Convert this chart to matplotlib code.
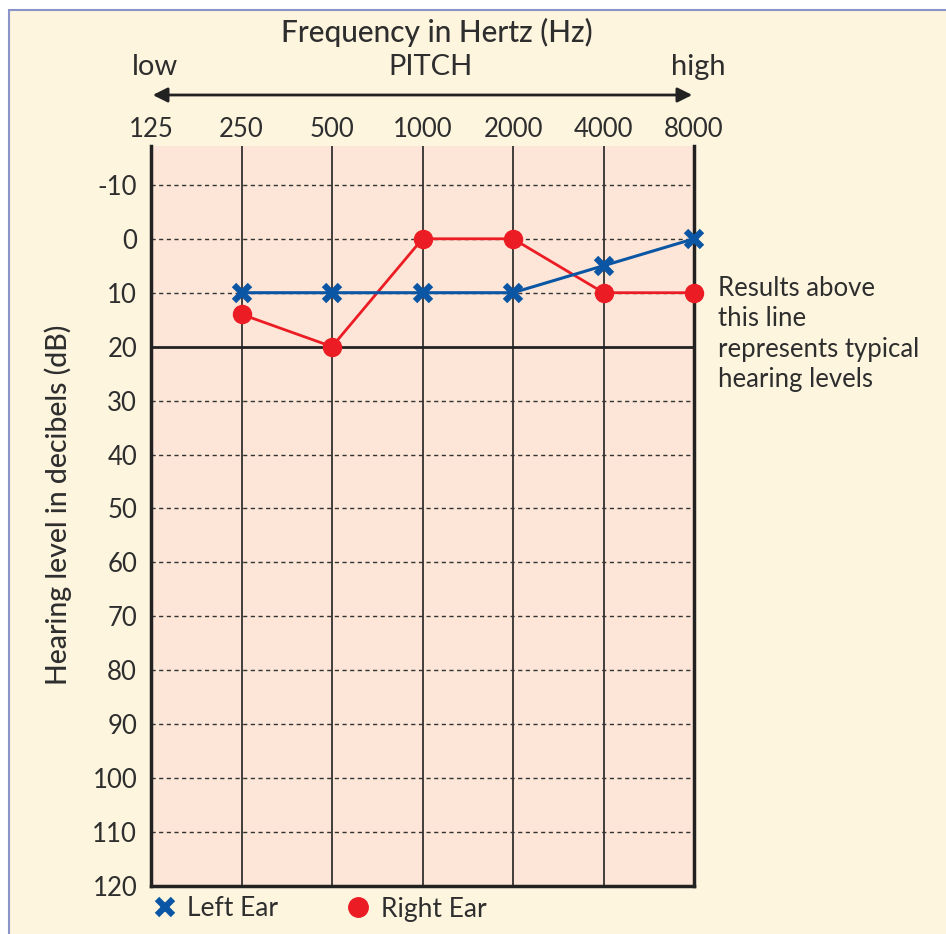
import numpy as np
import matplotlib.pyplot as plt
from matplotlib.lines import Line2D
from matplotlib.patches import Rectangle

plt.rcParams['font.family'] = ['Lato', 'DejaVu Sans']

# 周波数と聴力レベル
freqs = [125, 250, 500, 1000, 2000, 4000, 8000]
freq_labels = ['125', '250', '500', '1000', '2000', '4000', '8000']
left_freqs = [250, 500, 1000, 2000, 4000, 8000]
left_db = [10, 10, 10, 10, 5, 0]
right_freqs = [250, 500, 1000, 2000, 4000, 8000]
right_db = [14, 20, 0, 0, 10, 10]
db_ticks = [-10, 0, 10, 20, 30, 40, 50, 60, 70, 80, 90, 100, 110, 120]

txt = '#2e2e2e'
blue = '#0b56a4'
red = '#ec1c24'

fig = plt.figure(figsize=(9.46, 9.34), dpi=100)
fig.patch.set_facecolor('white')
# 背景の枠
fig.patches.append(Rectangle((9/946, -0.1), 1.1, 1 - 10/934 + 0.1, transform=fig.transFigure,
                             facecolor='#fdf5de', edgecolor='#8b94c9', linewidth=1.5, zorder=-10))

ax = fig.add_axes([151/946, 1 - 886/934, (694-151)/946, (886-146)/934])
ax.set_facecolor('#fde6d7')

xpos = lambda f: np.log2(np.array(f) / 125.0)

ax.set_xlim(0, 6)
ax.set_ylim(120, -17.2)

# グリッド
for f in freqs[1:-1]:
    ax.axvline(xpos(f), color='#222222', lw=1.2, zorder=1)
for d in db_ticks:
    if d == 20:
        ax.axhline(d, color='#222222', lw=2, zorder=1)
    elif d != 120:
        ax.axhline(d, color='#333333', lw=1, ls=(0, (3, 2.5)), zorder=1)

ax.plot(xpos(right_freqs), right_db, color=red, lw=2, marker='o', ms=13, zorder=3, clip_on=False)
ax.plot(xpos(left_freqs), left_db, color=blue, lw=2.2, marker='x', ms=12, mew=4.5, zorder=4, clip_on=False)

for s in ['left', 'right', 'bottom']:
    ax.spines[s].set_linewidth(2.5)
    ax.spines[s].set_color('#222222')
ax.spines['top'].set_visible(False)

ax.set_yticks(db_ticks)
ax.set_yticklabels([str(d) for d in db_ticks], fontsize=18.5, color=txt)
ax.tick_params(axis='y', length=0, pad=10)
ax.xaxis.tick_top()
ax.set_xticks(xpos(freqs))
ax.set_xticklabels(freq_labels, fontsize=18.5, color=txt)
ax.tick_params(axis='x', length=0, pad=3)

fig.text(58/946, 1 - 505/934, 'Hearing level in decibels (dB)', rotation=90, ha='center', va='center',
         fontsize=20.5, color=txt, fontweight='medium')

# 上部の見出しと矢印
fig.text(437/946, 1 - 32/934, 'Frequency in Hertz (Hz)', ha='center', va='center', fontsize=21.5,
         color=txt, fontweight='medium')
fig.text(155/946, 1 - 67/934, 'low', ha='center', va='center', fontsize=21, color=txt)
fig.text(430/946, 1 - 67/934, 'PITCH', ha='center', va='center', fontsize=21, color=txt)
fig.text(698/946, 1 - 67/934, 'high', ha='center', va='center', fontsize=21, color=txt)
ax.annotate('', xy=(150/946, 1 - 95/934), xytext=(695/946, 1 - 95/934), xycoords='figure fraction',
            arrowprops=dict(arrowstyle='<|-|>', color='#222222', lw=2, mutation_scale=22))

fig.text(718/946, 1 - 334/934, 'Results above\nthis line\nrepresents typical\nhearing levels',
         ha='left', va='center', fontsize=18.5, color=txt, linespacing=1.25)

handles = [Line2D([], [], color=blue, marker='x', ls='', ms=12, mew=4.5),
           Line2D([], [], color=red, marker='o', ls='', ms=14)]
ax.legend(handles, ['Left Ear', 'Right Ear'], loc='center left', bbox_to_anchor=(150/946, 1 - 909/934),
          bbox_transform=fig.transFigure, borderaxespad=0, borderpad=0, ncol=2,
          frameon=False, prop={'size': 19}, handletextpad=0.3, columnspacing=2.5, handlelength=1.1,
          labelcolor=txt)

fig.savefig('out.png', dpi=100)
